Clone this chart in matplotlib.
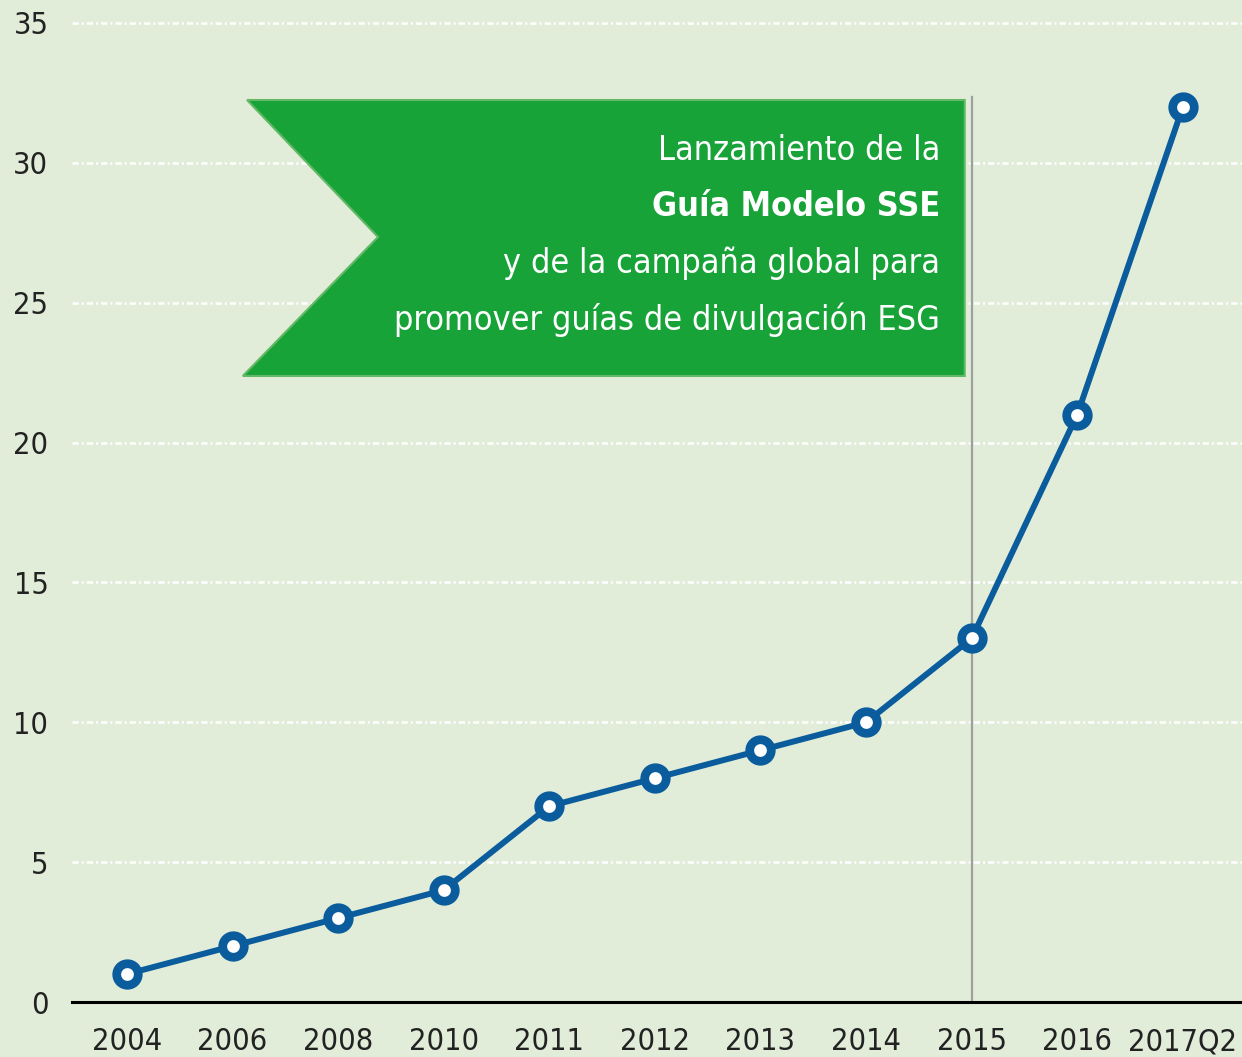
import matplotlib
matplotlib.use('agg')
import matplotlib.pyplot as plt
from matplotlib.patches import Polygon

years = ['2004', '2006', '2008', '2010', '2011', '2012', '2013', '2014', '2015', '2016', '2017Q2']
values = [1, 2, 3, 4, 7, 8, 9, 10, 13, 21, 32]
y_ticks = [0, 5, 10, 15, 20, 25, 30, 35]
launch_year = '2015'
banner_lines = ['Lanzamiento de la', 'Guía Modelo SSE',
                'y de la campaña global para', 'promover guías de divulgación ESG']

bg = '#e1edd9'
blue = '#0a5c9c'
green = '#17a338'

plt.rcParams['font.family'] = ['DejaVu Sans']
plt.rcParams['font.stretch'] = 'condensed'
plt.rcParams['lines.scale_dashes'] = False

fig = plt.figure(figsize=(12.42, 10.57), dpi=100, facecolor=bg)
ax = fig.add_axes([0.058, 0.052, 0.942, 0.948])
ax.set_facecolor(bg)

x = list(range(len(years)))
ax.set_xlim(-0.52, 10.56)
ax.set_ylim(0, 35.82)

# grid
for v in y_ticks[1:]:
    ax.axhline(v, color='white', lw=1.8, ls=(0, (4.5, 2.2, 1.4, 2.2)), zorder=1)

# banner (axes coords)
banner = Polygon([(0.1496, 0.9002), (0.763, 0.9002), (0.763, 0.6248),
                  (0.146, 0.6248), (0.2615, 0.7635)], closed=True,
                 transform=ax.transAxes, facecolor=green, edgecolor='#62b866',
                 lw=1.5, zorder=2)
ax.add_patch(banner)
baselines = [0.8403, 0.7844, 0.7275, 0.6707]
for i, (txt, yb) in enumerate(zip(banner_lines, baselines)):
    ax.text(0.742, yb, txt, transform=ax.transAxes, ha='right', va='baseline',
            color='white', fontsize=24.5, fontstretch='condensed',
            fontweight='bold' if i == 1 else 'normal', zorder=3)

# vertical line at launch
ax.axvline(years.index(launch_year), ymin=0, ymax=0.903, color='#a0a0a0', lw=1.6, zorder=2)

ax.plot(x, values, color=blue, lw=4.3, marker='o', ms=15.5, mew=6.3,
        mfc='white', mec=blue, zorder=4, clip_on=False)

ax.set_xticks(x)
ax.set_xticklabels(years)
ax.set_yticks(y_ticks)
for s in ['top', 'right', 'left']:
    ax.spines[s].set_visible(False)
ax.spines['bottom'].set_linewidth(2.2)
ax.spines['bottom'].set_color('black')
ax.spines['bottom'].set_zorder(3)
ax.tick_params(axis='both', length=0, labelsize=22, colors='#222222')
ax.tick_params(axis='x', pad=18)
ax.tick_params(axis='y', pad=17)

fig.savefig('out.png', dpi=100, facecolor=bg)
